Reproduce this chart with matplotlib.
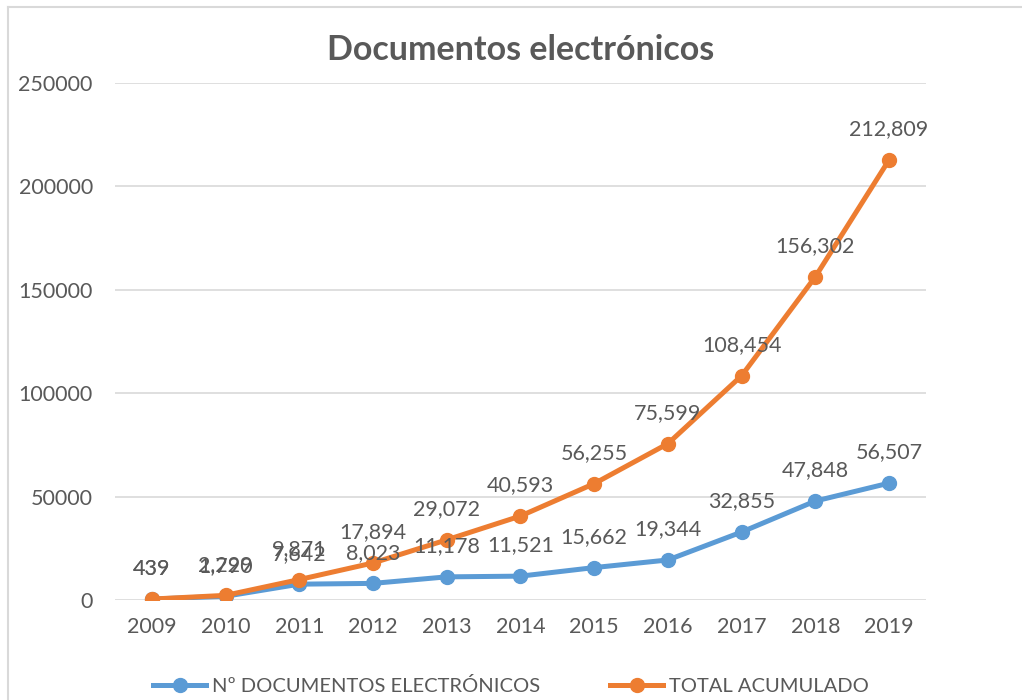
import matplotlib.pyplot as plt
from matplotlib.lines import Line2D

years = ["2009", "2010", "2011", "2012", "2013", "2014", "2015", "2016", "2017", "2018", "2019"]
documentos = [439, 1790, 7642, 8023, 11178, 11521, 15662, 19344, 32855, 47848, 56507]
acumulado = [439, 2229, 9871, 17894, 29072, 40593, 56255, 75599, 108454, 156302, 212809]

BLUE = "#5B9BD5"
ORANGE = "#ED7D31"
TEXT = "#595959"
GRID = "#D9D9D9"

plt.rcParams["font.family"] = ["Lato", "DejaVu Sans"]

fig = plt.figure(figsize=(10.22, 7.0), dpi=100)
ax = fig.add_axes([0.1125, 0.1429, 0.7935, 0.7385])

x = list(range(len(years)))
ax.plot(x, documentos, color=BLUE, lw=3.6, marker="o", ms=10, solid_capstyle="round", zorder=3)
ax.plot(x, acumulado, color=ORANGE, lw=3.6, marker="o", ms=10, solid_capstyle="round", zorder=4)

for xi, v in zip(x, documentos):
    ax.annotate(f"{v:,}", (xi, v), xytext=(0, 22), textcoords="offset points",
                ha="center", va="center", fontsize=15.5, color=TEXT, zorder=5)
for xi, v in zip(x, acumulado):
    ax.annotate(f"{v:,}", (xi, v), xytext=(0, 22), textcoords="offset points",
                ha="center", va="center", fontsize=15.5, color=TEXT, zorder=5)

ax.set_xlim(-0.5, len(years) - 0.5)
ax.set_ylim(0, 250000)
ax.set_yticks(range(0, 250001, 50000))
ax.set_yticklabels([str(t) for t in range(0, 250001, 50000)])
ax.set_xticks(x)
ax.set_xticklabels(years)
ax.tick_params(axis="both", length=0, labelsize=15.5, labelcolor=TEXT)
ax.tick_params(axis="y", pad=16)
ax.tick_params(axis="x", pad=12)
ax.grid(axis="y", color=GRID, lw=1.2)
ax.set_axisbelow(True)
for s in ax.spines.values():
    s.set_visible(False)

fig.text(0.509, 0.928, "Documentos electrónicos", ha="center", va="center",
         fontsize=24.5, fontweight="bold", color=TEXT)

handles = [
    Line2D([], [], color=BLUE, lw=3.6, marker="o", ms=10),
    Line2D([], [], color=ORANGE, lw=3.6, marker="o", ms=10),
]
fig.legend(handles, ["Nº DOCUMENTOS ELECTRÓNICOS", "TOTAL ACUMULADO"],
           loc="center", bbox_to_anchor=(0.5, 0.02), ncol=2, frameon=False,
           fontsize=14.5, labelcolor=TEXT, handlelength=2.6, handletextpad=0.3,
           columnspacing=3.5)

# chart frame, open at the right and bottom
fig.add_artist(Line2D([0.008, 0.008], [0.0, 0.99], color=GRID, lw=1.5, transform=fig.transFigure))
fig.add_artist(Line2D([0.008, 1.0], [0.99, 0.99], color=GRID, lw=1.5, transform=fig.transFigure))

fig.savefig("out.png", dpi=100)
